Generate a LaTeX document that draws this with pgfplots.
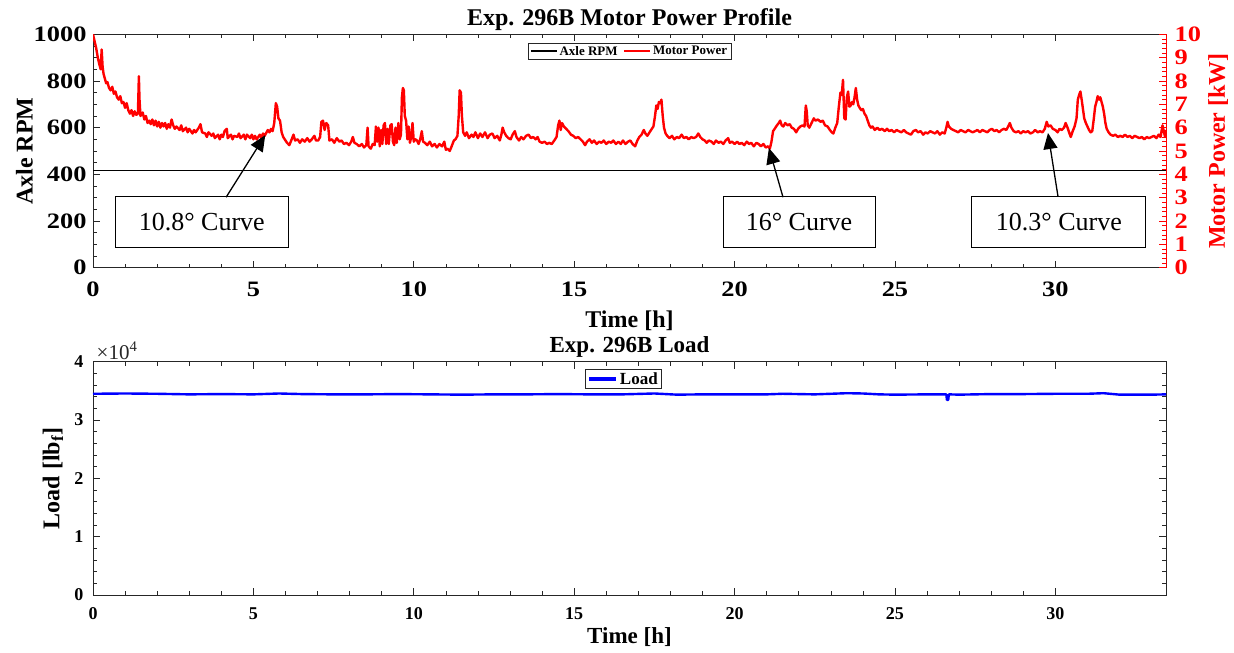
\documentclass[border=0pt]{standalone}
\usepackage{fontspec}
\setmainfont{Liberation Serif}
\newfontfamily\tickfont{Liberation Serif}[FakeStretch=1.2]
\usepackage{pgfplots}
\usepackage{pgfplotstable}
\pgfplotsset{compat=1.18}
\usetikzlibrary{arrows.meta}

\definecolor{axgray}{RGB}{38,38,38}
\definecolor{mred}{RGB}{255,0,0}
\definecolor{mblue}{RGB}{0,0,255}
\newcommand{\fs}[1]{\fontsize{#1}{#1}\selectfont}

% Motor power [kW] against time [h]
\pgfplotstableread[row sep=\\]{
t p\\
0.00 10.0\\ 0.05 9.7\\ 0.10 9.4\\ 0.15 9.0\\ 0.20 8.7\\ 0.24 8.5\\ 0.27 9.35\\ 0.30 8.6\\ 0.33 8.3\\ 0.37 8.1\\
0.41 7.9\\ 0.45 7.95\\ 0.50 7.7\\ 0.55 7.6\\ 0.60 7.75\\ 0.65 7.45\\ 0.70 7.55\\ 0.75 7.3\\ 0.80 7.2\\ 0.85 7.35\\
0.90 7.05\\ 0.95 7.1\\ 1.00 6.85\\ 1.05 7.05\\ 1.10 6.75\\ 1.15 6.6\\ 1.20 6.75\\ 1.25 6.5\\ 1.30 6.7\\ 1.35 6.55\\
1.40 6.6\\ 1.43 8.2\\ 1.45 7.2\\ 1.48 6.5\\ 1.55 6.65\\ 1.60 6.35\\ 1.65 6.5\\ 1.70 6.2\\ 1.75 6.3\\ 1.80 6.15\\
1.85 6.35\\ 1.90 6.1\\ 1.95 6.3\\ 2.00 6.05\\ 2.05 6.25\\ 2.10 6.0\\ 2.15 6.2\\ 2.20 6.05\\ 2.25 6.2\\ 2.30 5.95\\
2.35 6.15\\ 2.40 6.0\\ 2.45 6.35\\ 2.50 6.1\\ 2.55 5.95\\ 2.60 6.05\\ 2.70 5.9\\ 2.75 6.1\\ 2.80 5.85\\ 2.90 6.0\\
2.95 5.8\\ 3.00 5.95\\ 3.10 5.75\\ 3.15 5.9\\ 3.20 5.8\\ 3.30 6.0\\ 3.35 6.15\\ 3.40 5.8\\ 3.50 5.75\\ 3.55 5.6\\
3.60 5.8\\ 3.70 5.65\\ 3.75 5.75\\ 3.80 5.55\\ 3.90 5.7\\ 3.95 5.5\\ 4.00 5.7\\ 4.05 5.6\\ 4.10 5.85\\ 4.17 5.95\\
4.20 5.55\\ 4.30 5.7\\ 4.35 5.5\\ 4.40 5.65\\ 4.50 5.6\\ 4.55 5.75\\ 4.60 5.55\\ 4.70 5.7\\ 4.75 5.5\\ 4.80 5.7\\
4.90 5.55\\ 4.95 5.7\\ 5.00 5.5\\ 5.05 5.65\\ 5.10 5.5\\ 5.20 5.7\\ 5.25 5.55\\ 5.30 5.75\\ 5.35 5.65\\ 5.45 5.9\\
5.50 5.8\\ 5.55 5.95\\ 5.60 5.85\\ 5.65 6.2\\ 5.70 7.05\\ 5.74 6.9\\ 5.78 6.4\\ 5.83 6.3\\ 5.88 5.8\\ 5.93 5.6\\
6.00 5.45\\ 6.05 5.35\\ 6.12 5.25\\ 6.18 5.45\\ 6.25 5.7\\ 6.30 5.45\\ 6.38 5.5\\ 6.45 5.35\\ 6.52 5.5\\ 6.60 5.4\\
6.68 5.55\\ 6.75 5.4\\ 6.82 5.5\\ 6.90 5.65\\ 6.95 5.45\\ 7.02 5.45\\ 7.08 5.6\\ 7.12 6.25\\ 7.17 6.3\\ 7.22 5.9\\
7.27 6.2\\ 7.33 6.1\\ 7.37 5.45\\ 7.45 5.5\\ 7.52 5.35\\ 7.60 5.55\\ 7.68 5.4\\ 7.75 5.45\\ 7.82 5.3\\ 7.90 5.35\\
7.98 5.25\\ 8.05 5.4\\ 8.10 5.6\\ 8.15 5.35\\ 8.22 5.3\\ 8.30 5.2\\ 8.38 5.3\\ 8.45 5.15\\ 8.52 5.25\\ 8.56 6.0\\
8.59 5.2\\ 8.66 5.1\\ 8.72 5.3\\ 8.78 5.25\\ 8.82 6.05\\ 8.86 5.4\\ 8.90 6.0\\ 8.94 5.2\\ 8.98 5.9\\ 9.02 5.3\\
9.06 6.1\\ 9.10 6.2\\ 9.14 5.3\\ 9.18 5.95\\ 9.22 5.3\\ 9.27 6.1\\ 9.31 6.15\\ 9.35 5.4\\ 9.39 5.25\\ 9.43 6.0\\
9.47 5.35\\ 9.52 6.2\\ 9.56 5.5\\ 9.60 5.7\\ 9.63 7.3\\ 9.66 7.7\\ 9.69 7.6\\ 9.72 6.5\\ 9.76 6.3\\ 9.80 5.5\\
9.84 6.05\\ 9.88 5.35\\ 9.92 5.6\\ 9.96 6.2\\ 10.00 5.4\\ 10.05 5.5\\ 10.10 5.45\\ 10.15 5.3\\ 10.20 5.5\\ 10.25 5.85\\
10.29 5.4\\ 10.35 5.35\\ 10.42 5.25\\ 10.50 5.4\\ 10.57 5.2\\ 10.65 5.3\\ 10.72 5.15\\ 10.80 5.3\\ 10.88 5.2\\ 10.95 5.4\\
11.00 5.05\\ 11.05 5.1\\ 11.12 5.0\\ 11.18 5.2\\ 11.25 5.45\\ 11.30 5.5\\ 11.36 5.65\\ 11.40 6.5\\ 11.43 7.6\\ 11.47 7.5\\
11.50 6.5\\ 11.54 5.8\\ 11.60 5.65\\ 11.65 5.8\\ 11.72 5.55\\ 11.80 5.7\\ 11.86 5.6\\ 11.92 5.8\\ 12.00 5.55\\ 12.07 5.75\\
12.14 5.6\\ 12.22 5.8\\ 12.30 5.55\\ 12.37 5.7\\ 12.45 5.75\\ 12.52 5.55\\ 12.60 5.65\\ 12.68 5.45\\ 12.73 5.7\\ 12.77 6.0\\
12.82 5.8\\ 12.88 5.65\\ 12.95 5.55\\ 13.02 5.5\\ 13.08 5.7\\ 13.15 5.85\\ 13.20 5.6\\ 13.28 5.45\\ 13.35 5.6\\ 13.42 5.5\\
13.50 5.65\\ 13.58 5.7\\ 13.65 5.55\\ 13.72 5.6\\ 13.80 5.5\\ 13.86 5.6\\ 13.92 5.4\\ 14.00 5.35\\ 14.08 5.4\\ 14.15 5.3\\
14.22 5.35\\ 14.30 5.3\\ 14.38 5.45\\ 14.45 5.6\\ 14.50 6.1\\ 14.54 6.3\\ 14.58 5.9\\ 14.62 6.2\\ 14.68 6.05\\ 14.75 5.95\\
14.82 5.85\\ 14.90 5.7\\ 14.97 5.65\\ 15.05 5.55\\ 15.12 5.6\\ 15.20 5.5\\ 15.27 5.4\\ 15.34 5.25\\ 15.40 5.4\\ 15.48 5.5\\
15.55 5.35\\ 15.62 5.45\\ 15.70 5.3\\ 15.78 5.4\\ 15.85 5.35\\ 15.92 5.45\\ 16.00 5.3\\ 16.08 5.4\\ 16.15 5.35\\ 16.22 5.45\\
16.30 5.3\\ 16.38 5.4\\ 16.45 5.3\\ 16.52 5.45\\ 16.60 5.3\\ 16.68 5.4\\ 16.75 5.45\\ 16.82 5.3\\ 16.90 5.2\\ 16.97 5.45\\
17.03 5.6\\ 17.10 5.7\\ 17.17 5.9\\ 17.22 5.75\\ 17.28 5.65\\ 17.35 5.8\\ 17.42 5.95\\ 17.47 6.05\\ 17.52 6.5\\ 17.56 6.95\\
17.60 6.8\\ 17.64 7.1\\ 17.68 7.05\\ 17.72 7.2\\ 17.76 6.5\\ 17.80 6.0\\ 17.85 5.75\\ 17.90 5.65\\ 17.97 5.55\\ 18.05 5.65\\
18.12 5.5\\ 18.20 5.6\\ 18.27 5.55\\ 18.35 5.7\\ 18.42 5.55\\ 18.50 5.6\\ 18.57 5.5\\ 18.65 5.6\\ 18.72 5.55\\ 18.80 5.6\\
18.87 5.75\\ 18.93 5.6\\ 19.00 5.5\\ 19.07 5.45\\ 19.13 5.35\\ 19.20 5.45\\ 19.28 5.4\\ 19.35 5.3\\ 19.42 5.45\\ 19.50 5.35\\
19.57 5.4\\ 19.65 5.3\\ 19.72 5.45\\ 19.80 5.55\\ 19.85 5.35\\ 19.92 5.4\\ 20.00 5.3\\ 20.08 5.4\\ 20.15 5.3\\ 20.22 5.35\\
20.30 5.25\\ 20.38 5.4\\ 20.45 5.3\\ 20.52 5.35\\ 20.60 5.2\\ 20.68 5.35\\ 20.75 5.3\\ 20.82 5.2\\ 20.90 5.3\\ 20.97 5.15\\
21.05 5.2\\ 21.10 5.1\\ 21.15 5.4\\ 21.20 5.85\\ 21.25 5.95\\ 21.32 6.1\\ 21.38 6.2\\ 21.42 6.3\\ 21.47 6.1\\ 21.52 6.05\\
21.58 6.2\\ 21.65 6.1\\ 21.72 6.15\\ 21.78 6.0\\ 21.85 5.95\\ 21.92 5.8\\ 21.98 5.95\\ 22.05 6.05\\ 22.12 6.1\\ 22.18 6.05\\
22.22 6.95\\ 22.25 6.7\\ 22.28 6.1\\ 22.33 6.0\\ 22.40 6.2\\ 22.47 6.4\\ 22.52 6.3\\ 22.60 6.35\\ 22.68 6.25\\ 22.75 6.3\\
22.82 6.1\\ 22.90 6.05\\ 22.97 5.9\\ 23.03 5.8\\ 23.08 5.75\\ 23.14 6.0\\ 23.20 6.2\\ 23.25 6.9\\ 23.30 7.5\\ 23.34 7.4\\
23.38 8.05\\ 23.42 6.4\\ 23.46 6.35\\ 23.50 7.3\\ 23.54 7.55\\ 23.58 6.9\\ 23.62 6.95\\ 23.66 7.1\\ 23.70 7.0\\ 23.74 7.3\\
23.78 7.7\\ 23.82 7.2\\ 23.86 6.95\\ 23.90 6.85\\ 23.95 6.75\\ 24.00 6.8\\ 24.05 6.6\\ 24.10 6.5\\ 24.15 6.3\\ 24.20 6.1\\
24.25 6.0\\ 24.30 6.05\\ 24.37 5.9\\ 24.45 6.0\\ 24.52 5.9\\ 24.60 5.95\\ 24.68 5.85\\ 24.75 5.95\\ 24.82 5.85\\ 24.90 5.9\\
24.97 5.8\\ 25.05 5.9\\ 25.12 5.85\\ 25.20 5.8\\ 25.28 5.9\\ 25.35 5.8\\ 25.42 5.75\\ 25.50 5.7\\ 25.57 5.85\\ 25.65 5.9\\
25.72 5.8\\ 25.80 5.85\\ 25.88 5.7\\ 25.95 5.8\\ 26.02 5.75\\ 26.10 5.85\\ 26.17 5.8\\ 26.25 5.75\\ 26.32 5.85\\ 26.40 5.7\\
26.47 5.8\\ 26.55 5.75\\ 26.60 6.0\\ 26.64 6.25\\ 26.68 6.05\\ 26.75 5.95\\ 26.82 5.9\\ 26.90 5.85\\ 26.97 5.8\\ 27.05 5.9\\
27.12 5.85\\ 27.20 5.8\\ 27.28 5.9\\ 27.35 5.85\\ 27.42 5.8\\ 27.50 5.85\\ 27.57 5.9\\ 27.65 5.8\\ 27.72 5.9\\ 27.80 5.85\\
27.88 5.8\\ 27.95 5.9\\ 28.02 5.95\\ 28.10 5.85\\ 28.17 5.9\\ 28.25 5.8\\ 28.32 5.9\\ 28.40 5.95\\ 28.47 5.9\\ 28.53 6.05\\
28.58 6.2\\ 28.63 6.0\\ 28.70 5.85\\ 28.77 5.8\\ 28.85 5.85\\ 28.92 5.75\\ 29.00 5.85\\ 29.07 5.8\\ 29.15 5.85\\ 29.22 5.75\\
29.30 5.8\\ 29.37 5.9\\ 29.45 5.8\\ 29.52 5.85\\ 29.60 5.8\\ 29.67 5.95\\ 29.73 6.25\\ 29.78 6.05\\ 29.85 6.1\\ 29.92 5.95\\
30.00 5.9\\ 30.07 5.8\\ 30.13 5.95\\ 30.20 5.9\\ 30.27 6.0\\ 30.32 6.2\\ 30.38 6.0\\ 30.44 5.75\\ 30.48 5.6\\ 30.54 5.85\\
30.60 6.05\\ 30.66 6.4\\ 30.70 7.2\\ 30.74 7.4\\ 30.78 7.55\\ 30.82 7.2\\ 30.86 6.8\\ 30.90 6.4\\ 30.95 6.2\\ 31.00 6.05\\
31.05 5.9\\ 31.10 5.8\\ 31.15 5.85\\ 31.20 6.4\\ 31.24 6.9\\ 31.28 7.1\\ 31.32 7.35\\ 31.36 7.2\\ 31.40 7.3\\ 31.44 7.1\\
31.48 6.9\\ 31.52 6.6\\ 31.56 6.2\\ 31.60 5.95\\ 31.66 5.8\\ 31.72 5.7\\ 31.80 5.65\\ 31.87 5.7\\ 31.95 5.6\\ 32.02 5.65\\
32.10 5.6\\ 32.17 5.7\\ 32.25 5.6\\ 32.32 5.65\\ 32.40 5.55\\ 32.47 5.65\\ 32.55 5.6\\ 32.62 5.55\\ 32.70 5.6\\ 32.77 5.5\\
32.85 5.6\\ 32.92 5.55\\ 33.00 5.6\\ 33.07 5.65\\ 33.15 5.55\\ 33.22 5.7\\ 33.28 5.6\\ 33.34 6.1\\ 33.38 5.85\\ 33.42 5.6\\
33.45 5.9\\
}\motor

% Axle load [10^4 lbf] against time [h]
\pgfplotstableread[row sep=\\]{
t l\\
0 3.45\\ 1 3.455\\ 2 3.45\\ 3 3.44\\ 4 3.445\\ 5 3.44\\ 5.8 3.455\\ 6.5 3.445\\ 7.5 3.44\\ 8.5 3.44\\
9.5 3.445\\ 10.5 3.44\\ 11.5 3.435\\ 12.5 3.44\\ 13.5 3.44\\ 14.5 3.445\\ 15.5 3.44\\ 16.5 3.44\\ 17.5 3.455\\ 18.2 3.435\\
19 3.44\\ 20 3.44\\ 21 3.44\\ 21.5 3.45\\ 22 3.445\\ 22.5 3.44\\ 23 3.45\\ 23.5 3.46\\ 24 3.455\\ 24.5 3.44\\
25 3.435\\ 26 3.44\\ 26.6 3.44\\ 26.62 3.345\\ 26.66 3.345\\ 26.68 3.44\\ 27 3.435\\ 28 3.445\\ 29 3.445\\ 30 3.45\\
31 3.45\\ 31.5 3.46\\ 32 3.435\\ 33 3.435\\ 33.45 3.44\\
}\load

\pgfplotsset{
  mlab/.style={
    scale only axis, width=1073pt, xmin=0, xmax=33.45,
    axis line style={axgray, line width=0.6pt},
    tick style={axgray, line width=0.6pt},
    major tick length=7pt, minor tick length=4pt,
    every axis title shift=0pt,
    /pgf/number format/assume math mode=true,
    /pgf/number format/1000 sep={},
    legend cell align=left,
  },
  shortleg/.style={legend image code/.code={\draw[##1] (0pt,0pt) -- (26pt,0pt);}},
  loadleg/.style={legend image code/.code={\draw[##1, line width=3.5pt] (0pt,0pt) -- (27pt,0pt);}},
}

\begin{document}
\begin{tikzpicture}
\useasboundingbox (0pt,0pt) rectangle (1234pt,653pt);

% ---------- upper panel, left axis: axle speed ----------
\begin{axis}[mlab,
  at={(93pt,385.3pt)}, anchor=south west, height=233.4pt,
  ymin=0, ymax=1000,
  axis y line*=left,
  xtick={0,5,...,30}, minor x tick num=4,
  ytick={0,200,...,1000}, minor y tick num=3,
  xticklabel style={font=\tickfont\fs{22}\bfseries, text=black, anchor=center, yshift=-22pt},
  yticklabel style={font=\tickfont\fs{22}\bfseries, text=black, anchor=east, xshift=-3pt},
  title={Exp. 296B Motor Power Profile},
  title style={font=\fs{24}\bfseries, at={(rel axis cs:0.5,1)}, anchor=base, yshift=8.3pt},
  xlabel={Time [h]},
  xlabel style={font=\fs{24}\bfseries, at={(rel axis cs:0.5,0)}, anchor=center, yshift=-53pt},
  ylabel={Axle RPM},
  ylabel style={font=\fs{24}\bfseries, at={(rel axis cs:0,0.5)}, anchor=center, yshift=68.5pt},
]
\addplot[black, line width=1.6pt] coordinates {(0,416) (33.45,416)};
\end{axis}

% ---------- upper panel, right axis: motor power ----------
\begin{axis}[mlab, shortleg,
  at={(93pt,385.3pt)}, anchor=south west, height=233.4pt,
  ymin=0, ymax=10,
  axis y line*=right, axis x line=none,
  y axis line style={mred, line width=0.6pt},
  ytick={0,1,...,10}, minor y tick num=4,
  ytick style={mred, line width=0.6pt},
  yticklabel style={font=\tickfont\fs{22}\bfseries, text=mred, anchor=west, xshift=5pt},
  ylabel={Motor Power [kW]},
  ylabel style={font=\fs{24}\bfseries, text=mred, at={(rel axis cs:1,0.5)}, anchor=center, yshift=-52pt},
  legend style={at={(rel axis cs:0.5,0.964)}, anchor=north, legend columns=2,
    font=\fs{13}\bfseries, draw=axgray, line width=0.6pt, inner xsep=2pt, inner ysep=1pt,
    /tikz/every even column/.append style={column sep=3pt}},
]
\addlegendimage{black, line width=1.6pt}
\addlegendentry{Axle RPM}
\addplot[mred, line width=2.4pt, line join=round] table[x=t, y=p] {\motor};
\addlegendentry{Motor Power}

\node[draw=black, line width=0.9pt, fill=white, minimum width=173pt, minimum height=51pt,
  inner sep=0pt, font=\fs{26}] at (axis cs:3.39,1.975) {10.8° Curve};
\node[draw=black, line width=0.9pt, fill=white, minimum width=152pt, minimum height=51pt,
  inner sep=0pt, font=\fs{26}] at (axis cs:22.01,1.975) {16° Curve};
\node[draw=black, line width=0.9pt, fill=white, minimum width=174pt, minimum height=51pt,
  inner sep=0pt, font=\fs{26}] at (axis cs:30.11,1.975) {10.3° Curve};
\draw[line width=1.3pt, -{Triangle[length=16pt,width=14pt]}] (axis cs:4.15,3.02) -- (axis cs:5.37,5.68);
\draw[line width=1.3pt, -{Triangle[length=16pt,width=14pt]}] (axis cs:21.51,3.02) -- (axis cs:21.07,5.13);
\draw[line width=1.3pt, -{Triangle[length=16pt,width=14pt]}] (axis cs:30.08,3.07) -- (axis cs:29.77,5.77);
\end{axis}

% ---------- lower panel: load ----------
\begin{axis}[mlab, loadleg,
  at={(93pt,58pt)}, anchor=south west, height=233.3pt,
  ymin=0, ymax=4, clip=false,
  xtick={0,5,...,30}, minor x tick num=4,
  ytick={0,1,...,4}, minor y tick num=4,
  xticklabel style={font=\fs{18}\bfseries, text=black, anchor=center, yshift=-19pt},
  yticklabel style={font=\fs{18}\bfseries, text=black, anchor=east, xshift=-6pt},
  title={Exp. 296B Load},
  title style={font=\fs{23}\bfseries, at={(rel axis cs:0.5,1)}, anchor=base, yshift=9pt},
  xlabel={Time [h]},
  xlabel style={font=\fs{23}\bfseries, at={(rel axis cs:0.5,0)}, anchor=center, yshift=-42pt},
  ylabel={Load [lb\textsubscript{f}]},
  ylabel style={font=\fs{24}\bfseries, at={(rel axis cs:0,0.5)}, anchor=center, yshift=40pt},
  legend style={at={(rel axis cs:0.4945,0.969)}, anchor=north,
    font=\fs{17}\bfseries, draw=axgray, line width=0.6pt, inner xsep=2pt, inner ysep=1pt},
]
\addplot[mblue, line width=2.4pt, line join=round] table[x=t, y=l] {\load};
\addlegendentry{Load}
\node[anchor=south west, inner sep=0pt, yshift=2pt, font=\fs{21}, text=axgray] at (rel axis cs:0,1) {\,×10\textsuperscript{4}};
\end{axis}
\end{tikzpicture}
\end{document}
